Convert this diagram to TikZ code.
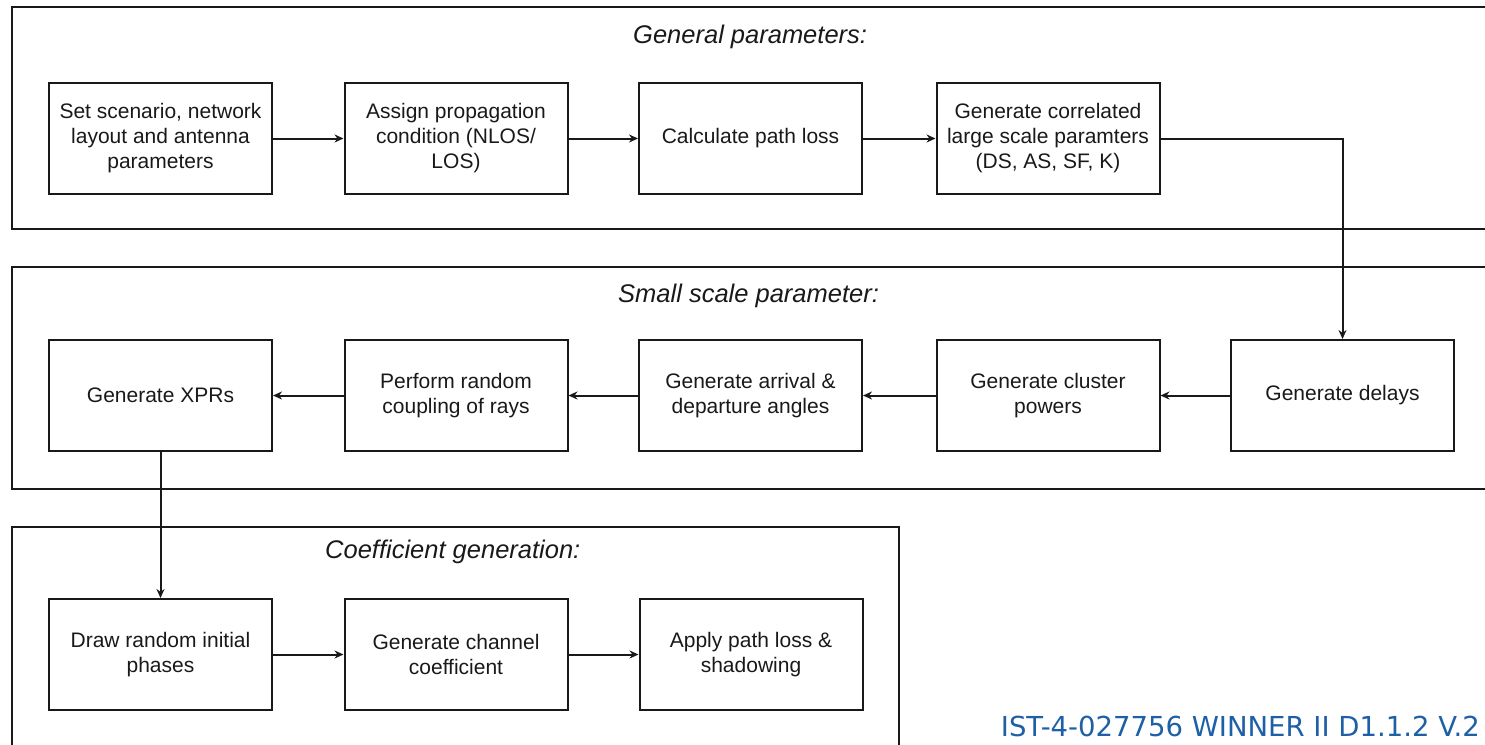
\documentclass[tikz,border=0pt]{standalone}
\usepackage{fontspec}
\setmainfont{Liberation Sans}
\newfontfamily\labelfont{DejaVu Sans}
\usetikzlibrary{arrows.meta}
\definecolor{labelblue}{RGB}{30,96,166}
\definecolor{ink}{RGB}{25,25,25}
\begin{document}
\begin{tikzpicture}[x=1pt,y=-1pt,
  stepbox/.style={draw=ink,line width=2pt,minimum width=223pt,minimum height=111pt,
    inner sep=0pt,align=center,font=\fontsize{21}{25}\selectfont,text=ink},
  frame/.style={draw=ink,line width=2.4pt},
  heading/.style={anchor=base west,inner sep=0pt,font=\fontsize{25.5}{28}\selectfont\itshape,text=ink},
  conn/.style={draw=ink,line width=2pt,-{Stealth[length=9pt,width=8pt]}}]
\useasboundingbox (0,0) rectangle (1485,744);
\clip (0,0) rectangle (1485,744);
% frames
\draw[frame] (12,7) rectangle (1510,229);
\draw[frame] (12,267) rectangle (1510,489);
\draw[frame] (12,527) rectangle (899,770);
% headings
\node[heading] (h1) at (633,43) {General parameters:};
\node[heading] (h2) at (618,302) {Small scale parameter:};
\node[heading] (h3) at (325,558) {Coefficient generation:};
% row 1
\node[stepbox] (a1) at (160.5,138.5) {Set scenario, network\\layout and antenna\\parameters};
\node[stepbox] (a2) at (456,138.5) {Assign propagation\\condition (NLOS/\\LOS)};
\node[stepbox] (a3) at (750.5,138.5) {Calculate path loss};
\node[stepbox] (a4) at (1048,138.5) {Generate correlated\\large scale paramters\\(DS, AS, SF, K)};
% row 2
\node[stepbox] (b5) at (1342.5,395.5) {Generate delays};
\node[stepbox] (b4) at (1048,395.5) {Generate cluster\\powers};
\node[stepbox] (b3) at (750.5,395.5) {Generate arrival \&\\departure angles};
\node[stepbox] (b2) at (456,395.5) {Perform random\\coupling of rays};
\node[stepbox] (b1) at (160.5,395.5) {Generate XPRs};
% row 3
\node[stepbox] (c1) at (160.5,654.5) {Draw random initial\\phases};
\node[stepbox] (c2) at (456,654.5) {Generate channel\\coefficient};
\node[stepbox] (c3) at (751,654.5) {Apply path loss \&\\shadowing};
% connectors
\draw[conn] (a1) -- (a2);
\draw[conn] (a2) -- (a3);
\draw[conn] (a3) -- (a4);
\draw[conn] (a4.east) -| (b5.north);
\draw[conn] (b5) -- (b4);
\draw[conn] (b4) -- (b3);
\draw[conn] (b3) -- (b2);
\draw[conn] (b2) -- (b1);
\draw[conn] (b1.south) -- (c1.north);
\draw[conn] (c1) -- (c2);
\draw[conn] (c2) -- (c3);
% label
\node[anchor=base east,inner sep=0pt,font=\labelfont\fontsize{27.5}{30}\selectfont,text=labelblue] (lbl) at (1480,736) {IST-4-027756 WINNER II D1.1.2 V.2};
\end{tikzpicture}
\end{document}
